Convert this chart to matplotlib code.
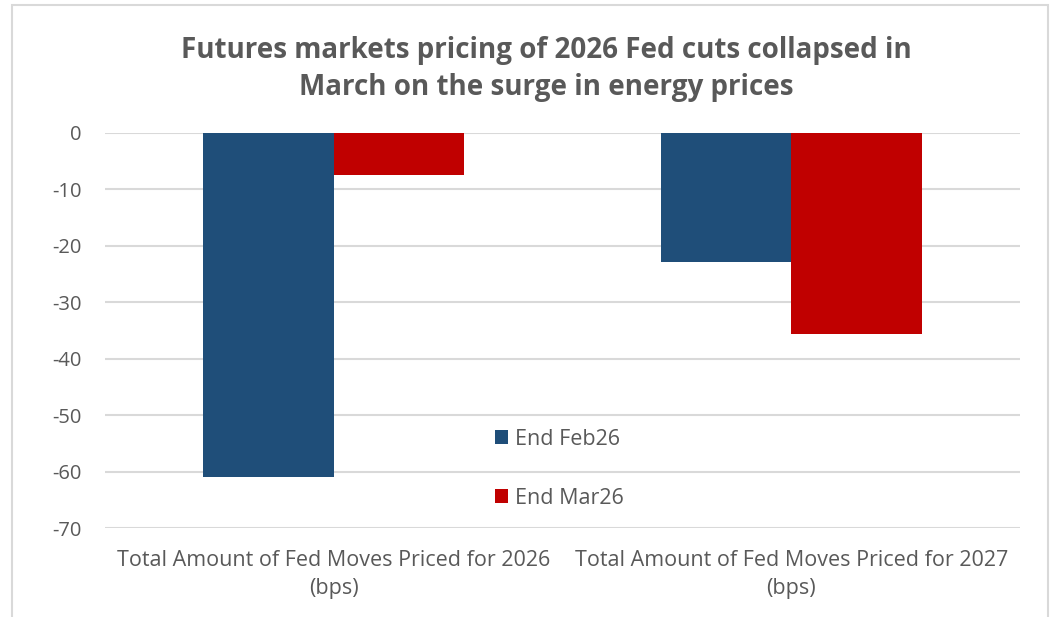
import matplotlib.pyplot as plt
import numpy as np
from matplotlib.patches import Rectangle

# datos
categorias = ['Total Amount of Fed Moves Priced for 2026\n(bps)',
              'Total Amount of Fed Moves Priced for 2027\n(bps)']
end_feb26 = [-61.0, -22.9]
end_mar26 = [-7.5, -35.7]
yticks = [0, -10, -20, -30, -40, -50, -60, -70]

AZUL = '#1f4e79'
ROJO = '#c00000'
GRIS = '#595959'

plt.rcParams['font.family'] = ['Open Sans', 'DejaVu Sans']

fig = plt.figure(figsize=(10.51, 6.17), dpi=100)
fig.patches.append(Rectangle((12 / 1051, -0.01), (1048 - 12) / 1051, 1 - 5 / 617 + 0.01,
                             transform=fig.transFigure, fill=False,
                             edgecolor='#d9d9d9', linewidth=1.5))

ax = fig.add_axes([105 / 1051, 1 - 528 / 617, 915 / 1051, 395 / 617])

x = np.arange(len(categorias))
ancho = 0.285
ax.bar(x - ancho / 2, end_feb26, ancho, color=AZUL, label='End Feb26', zorder=3)
ax.bar(x + ancho / 2, end_mar26, ancho, color=ROJO, label='End Mar26', zorder=3)

ax.set_xlim(-0.5, 1.5)
ax.set_ylim(-70, 0)
ax.set_yticks(yticks)
ax.set_yticklabels([str(v) for v in yticks], fontsize=14.5, color=GRIS)
ax.set_xticks(x)
ax.set_xticklabels(categorias, fontsize=15.5, color=GRIS, linespacing=1.45)
ax.tick_params(axis='both', length=0)
ax.tick_params(axis='y', pad=17)
ax.tick_params(axis='x', pad=16)
for s in ax.spines.values():
    s.set_visible(False)
ax.yaxis.grid(True, color='#d9d9d9', linewidth=1.5, zorder=0)
ax.set_axisbelow(True)

leg = ax.legend(loc='center left', bbox_to_anchor=(0.405, 0.15), frameon=False,
                fontsize=15.5, labelcolor=GRIS, handlelength=0.6, handleheight=0.6,
                handletextpad=0.35, labelspacing=1.75)

fig.text(0.52, 1 - 69 / 617,
         'Futures markets pricing of 2026 Fed cuts collapsed in\nMarch on the surge in energy prices',
         ha='center', va='center', fontsize=20, fontweight='bold', color=GRIS,
         linespacing=1.4)

fig.savefig('out.png', dpi=100)
